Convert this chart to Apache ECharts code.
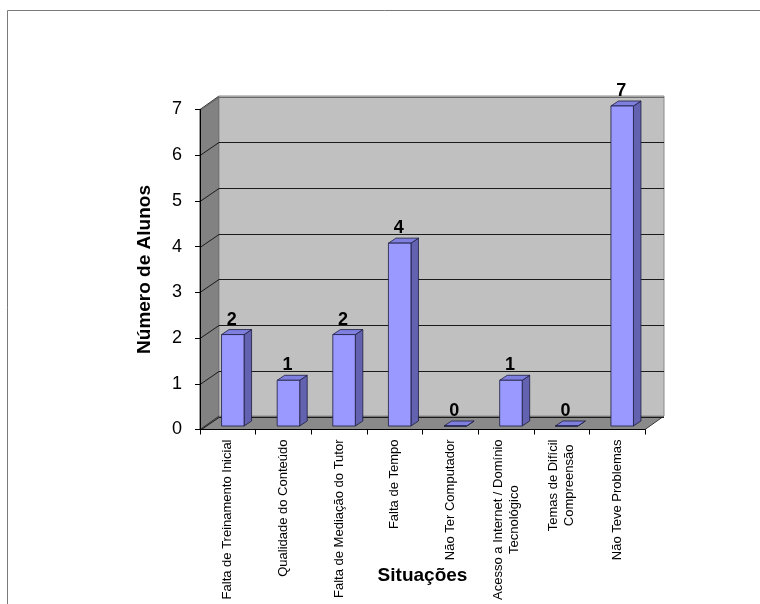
<!DOCTYPE html>
<html>
<head>
<meta charset="utf-8">
<script src="https://cdn.jsdelivr.net/npm/echarts@6/dist/echarts.min.js"></script>
<style>
  html, body { margin: 0; padding: 0; background: #ffffff; }
  #chart { width: 760px; height: 604px; }
</style>
</head>
<body>
<div id="chart"></div>
<script>
// Situações relatadas pelos alunos
const categories = [
  'Falta de Treinamento Inicial',
  'Qualidade do Conteúdo',
  'Falta de Mediação do Tutor',
  'Falta de Tempo',
  'Não Ter Computador',
  'Acesso a Internet / Domínio\nTecnológico',
  'Temas de Difícil\nCompreensão',
  'Não Teve Problemas'
];
const alunos = [2, 1, 2, 4, 0, 1, 0, 7];
const yTicks = [0, 1, 2, 3, 4, 5, 6, 7];

const FONT = '"Liberation Sans", Arial, sans-serif';

// pseudo-3D geometry (pixels)
const WALL_DX = 19, WALL_DY = -13.5;   // depth of the walls/floor
const BAR_OX = 5, BAR_OY = -3.5;       // front face of bars inside the box
const BAR_DX = 7.5, BAR_DY = -5;       // bar depth
const BAR_FRAC = 0.405;                // bar width as fraction of band

const yMin = yTicks[0];
const yMax = yTicks[yTicks.length - 1];
const yStep = yTicks[1] - yTicks[0];

function renderWalls(params, api) {
  const band = api.size([1, 0])[0];
  const p0 = api.coord([0, yMin]);
  const pTop = api.coord([0, yMax]);
  const L = p0[0] - band / 2;
  const R = L + band * categories.length;
  const yB = p0[1];
  const yT = pTop[1];
  const children = [];
  // floor
  children.push({
    type: 'polygon',
    shape: { points: [[L, yB], [R, yB], [R + WALL_DX, yB + WALL_DY], [L + WALL_DX, yB + WALL_DY]] },
    style: { fill: '#8a8a8a', stroke: '#3a3a3a', lineWidth: 1 }
  });
  // side wall
  children.push({
    type: 'polygon',
    shape: { points: [[L, yB], [L, yT], [L + WALL_DX, yT + WALL_DY], [L + WALL_DX, yB + WALL_DY]] },
    style: { fill: '#828282', stroke: '#3a3a3a', lineWidth: 1 }
  });
  // back wall
  children.push({
    type: 'rect',
    shape: { x: L + WALL_DX, y: yT + WALL_DY, width: R - L, height: yB - yT },
    style: { fill: '#c0c0c0', stroke: '#8a8a8a', lineWidth: 1 }
  });
  // grid lines on side and back walls
  yTicks.forEach(function (v) {
    const y = Math.round(api.coord([0, v])[1]) + 0.5;
    const yb = Math.round(y + WALL_DY) + 0.5;
    children.push({
      type: 'polyline',
      shape: { points: [[L, y], [L + WALL_DX, yb], [R + WALL_DX, yb]] },
      style: { fill: null, stroke: (v === yMax ? '#6a6a6a' : '#1a1a1a'), lineWidth: 1 }
    });
  });
  return { type: 'group', children: children };
}

function renderBar(params, api) {
  const idx = api.value(0);
  const val = api.value(1);
  const band = api.size([1, 0])[0];
  const top = api.coord([idx, val]);
  const base = api.coord([idx, 0]);
  const w = band * BAR_FRAC;
  const x = top[0] + BAR_OX - w / 2;
  const yT = top[1] + BAR_OY;
  const yB = base[1] + BAR_OY;
  const edge = { stroke: '#1c1c3c', lineWidth: 0.8 };
  const children = [
    {
      type: 'polygon',
      shape: { points: [[x + w, yT], [x + w, yB], [x + w + BAR_DX, yB + BAR_DY], [x + w + BAR_DX, yT + BAR_DY]] },
      style: Object.assign({ fill: '#6262b0' }, edge)
    },
    {
      type: 'polygon',
      shape: { points: [[x, yT], [x + w, yT], [x + w + BAR_DX, yT + BAR_DY], [x + BAR_DX, yT + BAR_DY]] },
      style: Object.assign({ fill: '#7f7fe0' }, edge)
    },
    {
      type: 'rect',
      shape: { x: x, y: yT, width: w, height: yB - yT },
      style: Object.assign({ fill: '#9999ff' }, edge)
    },
    {
      type: 'text',
      style: {
        text: String(val),
        x: x + w / 2 - 1,
        y: yT - 15,
        align: 'center',
        verticalAlign: 'middle',
        font: 'bold 18px ' + FONT,
        fill: '#000000'
      }
    }
  ];
  return { type: 'group', children: children };
}

const chart = echarts.init(document.getElementById('chart'), null, { renderer: 'canvas' });

chart.setOption({
  animation: false,
  backgroundColor: '#ffffff',
  graphic: [{
    type: 'rect',
    silent: true,
    shape: { x: 7.5, y: 10.5, width: 800, height: 700 },
    style: { fill: null, stroke: '#7a7a7a', lineWidth: 1 }
  }],
  grid: { left: 200, top: 109.5, width: 445, height: 320, containLabel: false, outerBoundsMode: 'none' },
  xAxis: {
    type: 'category',
    data: categories,
    boundaryGap: true,
    name: 'Situações',
    nameLocation: 'middle',
    nameGap: 137,
    nameMoveOverlap: false,
    nameTextStyle: { fontFamily: FONT, fontWeight: 'bold', fontSize: 19, color: '#000' },
    axisLine: { show: true, lineStyle: { color: '#000', width: 1 } },
    axisTick: { show: true, length: 5, lineStyle: { color: '#000' } },
    axisLabel: {
      interval: 0,
      rotate: 90,
      margin: 10,
      color: '#000',
      fontFamily: FONT,
      fontSize: 13,
      formatter: function (v) {
        return v.split('\n').map(function (s) { return '{c|' + s + '}'; }).join('\n');
      },
      rich: {
        c: { align: 'center', fontFamily: FONT, fontSize: 13, lineHeight: 16, color: '#000' }
      }
    },
    splitLine: { show: false }
  },
  yAxis: {
    type: 'value',
    min: yMin,
    max: yMax,
    interval: yStep,
    name: 'Número de Alunos',
    nameLocation: 'middle',
    nameRotate: 90,
    nameGap: 46,
    nameMoveOverlap: false,
    nameTextStyle: { fontFamily: FONT, fontWeight: 'bold', fontSize: 19, color: '#000' },
    axisLine: { show: true, lineStyle: { color: '#000', width: 1 } },
    axisTick: { show: true, length: 5, lineStyle: { color: '#000' } },
    axisLabel: { margin: 18, color: '#000', fontFamily: FONT, fontSize: 18 },
    splitLine: { show: false }
  },
  series: [
    {
      type: 'custom',
      name: 'paredes',
      silent: true,
      z: -1,
      clip: false,
      renderItem: renderWalls,
      data: [[0, 0]]
    },
    {
      type: 'custom',
      name: 'Número de Alunos',
      silent: true,
      z: 3,
      clip: false,
      renderItem: renderBar,
      data: alunos.map(function (v, i) { return [i, v]; })
    }
  ]
});
</script>
</body>
</html>
